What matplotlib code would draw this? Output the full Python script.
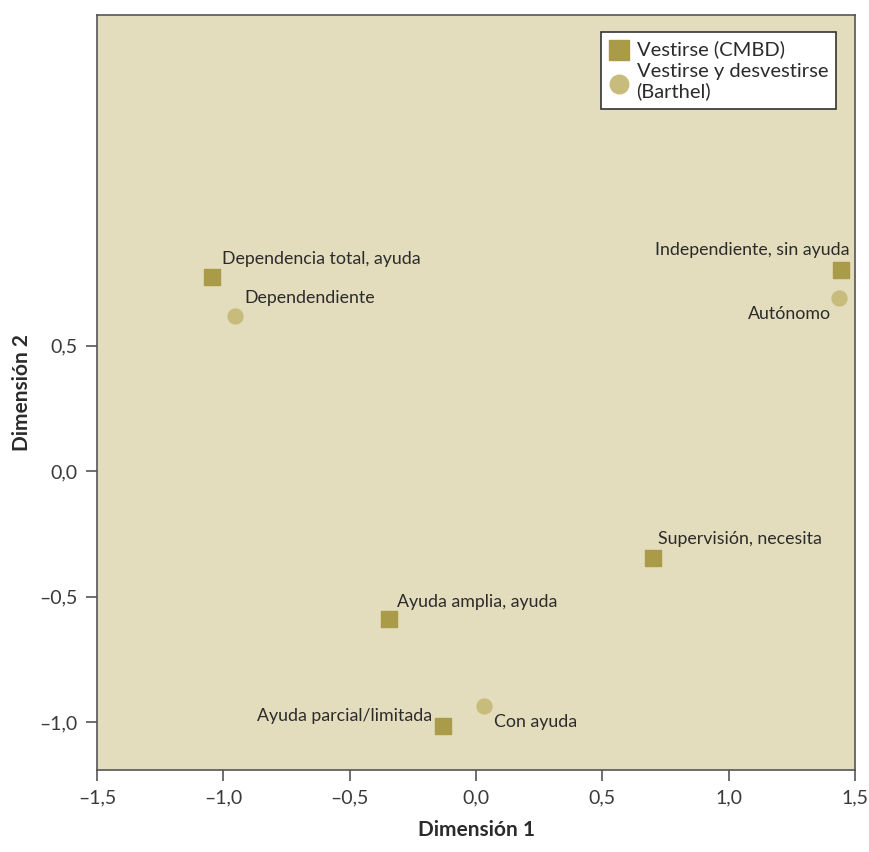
import matplotlib
matplotlib.use("Agg")
import matplotlib.pyplot as plt
from matplotlib.ticker import FuncFormatter, MultipleLocator

plt.rcParams['font.family'] = ['Lato', 'DejaVu Sans']

# Vestirse (CMBD)
cmbd_labels = ["Dependencia total, ayuda", "Independiente, sin ayuda",
               "Supervisión, necesita", "Ayuda amplia, ayuda", "Ayuda parcial/limitada"]
cmbd_x = [-1.045, 1.444, 0.70, -0.344, -0.13]
cmbd_y = [0.773, 0.80, -0.347, -0.59, -1.016]

# Vestirse y desvestirse (Barthel)
barthel_labels = ["Dependendiente", "Autónomo", "Con ayuda"]
barthel_x = [-0.954, 1.436, 0.032]
barthel_y = [0.618, 0.689, -0.936]

sq_color = '#a99b48'
ci_color = '#c7bc7b'
bg = '#e3ddbd'

fig = plt.figure(figsize=(8.69, 8.52), dpi=100)
ax = fig.add_axes([0.1116, 0.0962, 0.8724, 0.8862])
ax.set_facecolor(bg)

ax.scatter(cmbd_x, cmbd_y, marker='s', s=120, color=sq_color, label='Vestirse (CMBD)', zorder=3)
ax.scatter(barthel_x, barthel_y, marker='o', s=115, color=ci_color,
           label='Vestirse y desvestirse\n(Barthel)', zorder=3)

# label offsets in points
cmbd_off = [(7, 7, 'left'), (6, 9, 'right'), (4, 8, 'left'), (6, 7, 'left'), (-8, 2, 'right')]
barthel_off = [(7, 7, 'left'), (-6, -17, 'right'), (7, -17, 'left')]
for lab, x, y, (dx, dy, ha) in zip(cmbd_labels, cmbd_x, cmbd_y, cmbd_off):
    ax.annotate(lab, (x, y), xytext=(dx, dy), textcoords='offset points',
                ha=ha, va='bottom', fontsize=12.8, color='#2b2b2b')
for lab, x, y, (dx, dy, ha) in zip(barthel_labels, barthel_x, barthel_y, barthel_off):
    ax.annotate(lab, (x, y), xytext=(dx, dy), textcoords='offset points',
                ha=ha, va='bottom', fontsize=12.8, color='#2b2b2b')

ax.set_xlim(-1.5, 1.5)
ax.set_ylim(-1.19, 1.817)
ax.xaxis.set_major_locator(MultipleLocator(0.5))
ax.set_yticks([-1.0, -0.5, 0.0, 0.5])

fmt = FuncFormatter(lambda v, p: ("%.1f" % v).replace('-', '–').replace('.', ',').replace('–0,0', '0,0'))
ax.xaxis.set_major_formatter(fmt)
ax.yaxis.set_major_formatter(fmt)

for s in ax.spines.values():
    s.set_color('#555555')
    s.set_linewidth(1.2)
ax.tick_params(direction='out', length=8, width=1.2, color='#555555',
               labelsize=14, labelcolor='#3a3a3a', pad=6)

ax.set_xlabel('Dimensión 1', fontsize=15, fontweight='bold', color='#2b2b2b', labelpad=10)
ax.set_ylabel('Dimensión 2', fontsize=15, fontweight='bold', color='#2b2b2b', labelpad=5)

leg = ax.legend(loc='upper right', bbox_to_anchor=(0.975, 0.977), fontsize=14.5,
                frameon=True, fancybox=False, edgecolor='#333333', facecolor='white',
                framealpha=1, handletextpad=0.35, borderpad=0.4, labelspacing=0.25,
                handlelength=1.0, borderaxespad=0, markerscale=1.25)
leg.get_frame().set_linewidth(1.2)
for t in leg.get_texts():
    t.set_color('#2b2b2b')
    t.set_linespacing(1.15)

fig.savefig('out.png', dpi=100, facecolor='white')
